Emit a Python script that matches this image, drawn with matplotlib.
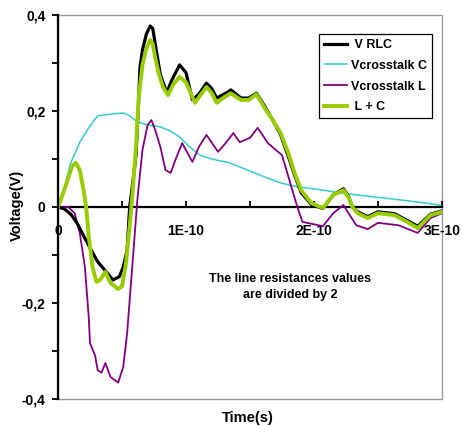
import numpy as np
import matplotlib
matplotlib.use('Agg')
import matplotlib.pyplot as plt
from matplotlib.patches import Rectangle
from matplotlib.ticker import MultipleLocator, FuncFormatter

plt.rcParams['font.family'] = ['Liberation Sans', 'DejaVu Sans']
plt.rcParams['font.weight'] = 'bold'

# time values read in units of 1E-10 s
t_rlc = [0, 0.05, 0.10, 0.15, 0.19, 0.23, 0.27, 0.31, 0.37, 0.43, 0.48, 0.51, 0.54,
         0.56, 0.59, 0.61, 0.63, 0.64, 0.66, 0.69, 0.72, 0.74, 0.77, 0.80, 0.85,
         0.89, 0.95, 1.00, 1.05, 1.10, 1.16, 1.20, 1.24, 1.33, 1.35, 1.43, 1.49,
         1.55, 1.61, 1.68, 1.74, 1.80, 1.85, 1.90, 1.98, 2.07, 2.15, 2.23, 2.27,
         2.30, 2.34, 2.42, 2.50, 2.63, 2.81, 2.91, 3.00]
v_rlc = [0, -0.004, -0.015, -0.034, -0.055, -0.075, -0.095, -0.114, -0.133, -0.152,
         -0.145, -0.125, -0.09, 0.0, 0.063, 0.11, 0.22, 0.29, 0.327, 0.36, 0.377,
         0.372, 0.323, 0.275, 0.238, 0.265, 0.296, 0.28, 0.223, 0.235, 0.258, 0.247,
         0.227, 0.24, 0.244, 0.227, 0.227, 0.237, 0.212, 0.18, 0.15, 0.105, 0.065,
         0.03, 0.005, -0.003, 0.025, 0.038, 0.022, 0.0, -0.01, -0.02, -0.01, -0.014,
         -0.04, -0.015, -0.008]

t_c = [0, 0.05, 0.10, 0.17, 0.24, 0.31, 0.40, 0.51, 0.56, 0.62, 0.70, 0.80, 0.88,
       0.95, 1.03, 1.11, 1.20, 1.34, 1.50, 1.62, 1.74, 1.87, 2.05, 2.21, 2.47, 2.70, 2.99]
v_c = [0, 0.04, 0.092, 0.135, 0.165, 0.19, 0.193, 0.196, 0.19, 0.177, 0.171, 0.167,
       0.158, 0.146, 0.125, 0.108, 0.100, 0.092, 0.075, 0.062, 0.05, 0.042, 0.036,
       0.029, 0.021, 0.014, 0.004]

t_l = [0, 0.08, 0.13, 0.17, 0.21, 0.24, 0.25, 0.29, 0.31, 0.34, 0.37, 0.41, 0.47,
       0.51, 0.54, 0.58, 0.62, 0.66, 0.70, 0.73, 0.76, 0.80, 0.84, 0.88, 0.92, 0.97,
       1.05, 1.10, 1.16, 1.25, 1.30, 1.37, 1.42, 1.50, 1.56, 1.64, 1.75, 1.80, 1.87,
       1.91, 1.98, 2.07, 2.15, 2.23, 2.27, 2.33, 2.42, 2.50, 2.66, 2.81, 2.91, 3.00]
v_l = [0, 0.0, -0.013, -0.054, -0.125, -0.229, -0.283, -0.31, -0.34, -0.345, -0.325,
       -0.354, -0.366, -0.333, -0.263, -0.125, 0.015, 0.119, 0.171, 0.181, 0.16,
       0.125, 0.077, 0.071, 0.10, 0.133, 0.094, 0.125, 0.15, 0.115, 0.13, 0.154,
       0.135, 0.144, 0.165, 0.133, 0.108, 0.063, 0.0, -0.031, -0.035, -0.04, -0.013,
       0.004, -0.013, -0.038, -0.046, -0.033, -0.038, -0.054, -0.023, -0.013]

t_lc = [0, 0.03, 0.08, 0.11, 0.14, 0.17, 0.20, 0.22, 0.24, 0.27, 0.30, 0.33, 0.37,
        0.41, 0.47, 0.50, 0.53, 0.56, 0.58, 0.61, 0.63, 0.66, 0.69, 0.72, 0.74, 0.76,
        0.79, 0.82, 0.86, 0.90, 0.95, 1.00, 1.04, 1.07, 1.11, 1.16, 1.20, 1.24, 1.30,
        1.35, 1.43, 1.49, 1.55, 1.61, 1.68, 1.74, 1.80, 1.85, 1.90, 1.98, 2.07, 2.11,
        2.15, 2.23, 2.27, 2.30, 2.34, 2.42, 2.50, 2.63, 2.72, 2.81, 2.91, 3.00]
v_lc = [0, 0.021, 0.06, 0.085, 0.092, 0.077, 0.035, 0.0, -0.06, -0.125, -0.156,
        -0.152, -0.135, -0.158, -0.171, -0.165, -0.12, -0.04, 0.02, 0.13, 0.227,
        0.296, 0.33, 0.348, 0.34, 0.31, 0.275, 0.25, 0.233, 0.255, 0.271, 0.26, 0.235,
        0.217, 0.232, 0.25, 0.238, 0.217, 0.229, 0.237, 0.223, 0.223, 0.235, 0.208,
        0.18, 0.154, 0.112, 0.07, 0.035, 0.008, -0.002, 0.012, 0.025, 0.035, 0.02,
        0.0, -0.013, -0.023, -0.013, -0.017, -0.03, -0.044, -0.017, -0.01]

fig = plt.figure(figsize=(4.62, 4.26), dpi=100)
ax = fig.add_axes([58/462, 27/426, 384/462, 384/426])

ax.plot(np.array(t_c)*1e-10, v_c, color='#33CCCC', lw=1.1, label='Vcrosstalk C', zorder=2)
ax.plot(np.array(t_l)*1e-10, v_l, color='#800080', lw=1.3, label='Vcrosstalk L', zorder=3)
ax.plot(np.array(t_rlc)*1e-10, v_rlc, color='black', lw=2.3, label=' V RLC', zorder=4)
ax.plot(np.array(t_lc)*1e-10, v_lc, color='#99CC00', lw=2.8, label=' L + C', zorder=5)

ax.set_xlim(0, 3e-10)
ax.set_ylim(-0.4, 0.4)

# frame: grey box, black axes crossing at zero
for s in ['top', 'right']:
    ax.spines[s].set_visible(False)
ax.spines['bottom'].set_position(('data', 0))
ax.spines['bottom'].set_linewidth(1.6)
ax.spines['left'].set_linewidth(1.6)
ax.spines['left'].set_zorder(6)
ax.add_patch(Rectangle((0, 0), 1, 1, transform=ax.transAxes, fill=False,
                       ec='#999999', lw=1.0, zorder=1, clip_on=False))


def xfmt(x, pos):
    k = int(round(x / 0.5e-10))
    if k % 2:
        return ''
    return '0' if k == 0 else '%dE-10' % (k // 2)


def yfmt(y, pos):
    k = int(round(y * 10))
    if k % 2:
        return ''
    if k == 0:
        return '0'
    return ('%.1f' % (k / 10)).replace('.', ',')


ax.xaxis.set_major_locator(MultipleLocator(0.5e-10))
ax.xaxis.set_major_formatter(FuncFormatter(xfmt))
ax.yaxis.set_major_locator(MultipleLocator(0.1))
ax.yaxis.set_major_formatter(FuncFormatter(yfmt))
ax.tick_params(axis='x', direction='in', length=4, width=1.3, pad=12, labelsize=10)
ax.tick_params(axis='y', direction='out', length=4, width=1.3, pad=5, labelsize=10)

fig.text(17/462, 1 - 205/426, 'Voltage(V)', rotation=90, ha='center', va='center',
         fontsize=10.5, fontweight='bold')
fig.text(248/462, 1 - 418/426, 'Time(s)', ha='center', va='center',
         fontsize=10.5, fontweight='bold')

fig.text(290/462, 1 - 287/426, 'The line resistances values\nare divided by 2',
         ha='center', va='center', fontsize=9, fontweight='bold', linespacing=1.35)

handles, labels = ax.get_legend_handles_labels()
order = [2, 0, 1, 3]
leg = ax.legend([handles[i] for i in order], [labels[i] for i in order],
                loc='upper right', bbox_to_anchor=((432 - 58) / 384, (399 - 34) / 384),
                fancybox=False, edgecolor='black', framealpha=1, fontsize=9,
                handlelength=1.9, handletextpad=0.3, borderpad=0.4, labelspacing=0.7,
                borderaxespad=0)
leg.get_frame().set_linewidth(0.9)

fig.savefig('out.png', dpi=100)
